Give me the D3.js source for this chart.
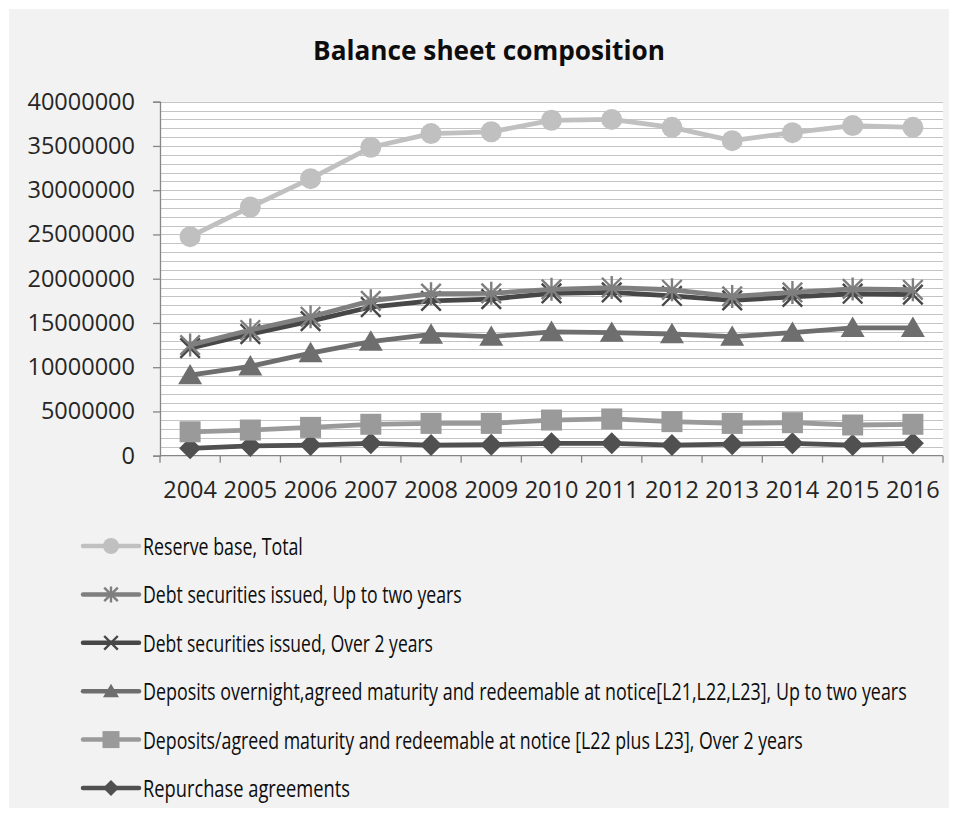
<!DOCTYPE html>
<html>
<head>
<meta charset="utf-8">
<script src="https://cdn.jsdelivr.net/npm/d3@7"></script>
<style>
  html, body { margin: 0; padding: 0; background: #ffffff; }
  svg { display: block; }
</style>
</head>
<body>
<svg id="chart" width="958" height="817"></svg>
<script>
// Years on the category axis
const years = ["2004","2005","2006","2007","2008","2009","2010","2011","2012","2013","2014","2015","2016"];

// Series values
const reserveBase   = [24750000, 28100000, 31300000, 34850000, 36400000, 36600000, 37900000, 38000000, 37100000, 35600000, 36500000, 37300000, 37100000];
const debtUpToTwo   = [12500000, 14200000, 15700000, 17500000, 18300000, 18350000, 18800000, 19000000, 18750000, 18000000, 18450000, 18850000, 18750000];
const debtOverTwo   = [12150000, 13750000, 15200000, 16800000, 17500000, 17700000, 18350000, 18450000, 18050000, 17550000, 17950000, 18300000, 18200000];
const depOvernight  = [9100000, 10100000, 11600000, 12900000, 13700000, 13450000, 14000000, 13900000, 13750000, 13450000, 13900000, 14450000, 14450000];
const depAgreedOver = [2700000, 2900000, 3200000, 3550000, 3650000, 3650000, 4030000, 4150000, 3850000, 3650000, 3730000, 3470000, 3550000];
const repurchase    = [830000, 1100000, 1200000, 1400000, 1200000, 1250000, 1400000, 1400000, 1200000, 1300000, 1400000, 1200000, 1400000];

// Y axis tick labels
const yTicks = [0, 5000000, 10000000, 15000000, 20000000, 25000000, 30000000, 35000000, 40000000];

const seriesNames = [
  "Reserve base, Total",
  "Debt securities issued, Up to two years",
  "Debt securities issued, Over 2 years",
  "Deposits overnight,agreed maturity and redeemable at notice[L21,L22,L23], Up to two years",
  "Deposits/agreed maturity and redeemable at notice [L22 plus L23], Over 2 years",
  "Repurchase agreements"
];

const series = [
  { name: seriesNames[0], values: reserveBase,   color: "#c0c0c0", marker: "circle",   legendWidth: 160 },
  { name: seriesNames[1], values: debtUpToTwo,   color: "#7f7f7f", marker: "star",     legendWidth: 319 },
  { name: seriesNames[2], values: debtOverTwo,   color: "#474747", marker: "x",        legendWidth: 290 },
  { name: seriesNames[3], values: depOvernight,  color: "#6e6e6e", marker: "triangle", legendWidth: 764 },
  { name: seriesNames[4], values: depAgreedOver, color: "#9a9a9a", marker: "square",   legendWidth: 660 },
  { name: seriesNames[5], values: repurchase,    color: "#505050", marker: "diamond",  legendWidth: 207 }
];

const svg = d3.select("#chart");

// Chart background
svg.append("rect").attr("x", 9).attr("y", 9).attr("width", 940).attr("height", 799).attr("fill", "#f2f2f2");

const plot = { left: 160, right: 943, top: 101.7, bottom: 455.7 };

const x = d3.scaleBand().domain(years).range([plot.left, plot.right]).padding(0);
const y = d3.scaleLinear().domain([0, 40000000]).range([plot.bottom, plot.top]);

// Plot area
svg.append("rect")
  .attr("x", plot.left).attr("y", plot.top)
  .attr("width", plot.right - plot.left).attr("height", plot.bottom - plot.top)
  .attr("fill", "#ffffff");

// Horizontal gridlines every 1,000,000
const gridVals = d3.range(1000000, 40000001, 1000000);
svg.append("g").selectAll("line").data(gridVals).join("line")
  .attr("x1", plot.left).attr("x2", plot.right)
  .attr("y1", d => Math.round(y(d)) + 0.5).attr("y2", d => Math.round(y(d)) + 0.5)
  .attr("stroke", "#c4c4c4").attr("stroke-width", 1.2);

// Y axis
const yAxis = svg.append("g")
  .attr("transform", `translate(${plot.left},0)`)
  .call(d3.axisLeft(y).tickValues(yTicks).tickSize(7).tickPadding(18).tickFormat(d3.format("d")));
yAxis.select(".domain").attr("stroke", "#868686").attr("stroke-width", 1.3);
yAxis.selectAll(".tick line").attr("stroke", "#868686").attr("stroke-width", 1.3);
yAxis.selectAll(".tick text")
  .attr("font-family", "'Open Sans', sans-serif").attr("font-size", 23.5)
  .attr("fill", "#262626");

// X axis: ticks at category boundaries, labels at category centres
const xAxisG = svg.append("g");
xAxisG.append("line")
  .attr("x1", plot.left).attr("x2", plot.right)
  .attr("y1", plot.bottom).attr("y2", plot.bottom)
  .attr("stroke", "#868686").attr("stroke-width", 1.3);
const boundaries = years.map(d => x(d)).concat([x(years[years.length - 1]) + x.bandwidth()]);
xAxisG.selectAll("line.tk").data(boundaries).join("line").attr("class", "tk")
  .attr("x1", d => d).attr("x2", d => d)
  .attr("y1", plot.bottom).attr("y2", plot.bottom + 7)
  .attr("stroke", "#868686").attr("stroke-width", 1.3);
xAxisG.selectAll("text").data(years).join("text")
  .attr("x", d => x(d) + x.bandwidth() / 2)
  .attr("y", 498)
  .attr("text-anchor", "middle")
  .attr("font-family", "'Open Sans', sans-serif").attr("font-size", 23.5)
  .attr("fill", "#262626")
  .text(d => d);

// Condensed text: shrink the font to the wanted width, then stretch it back vertically
function condensedText(parent, str, x0, baseline, width, size, weight, anchor) {
  const t = parent.append("text")
    .attr("font-family", "'Open Sans', sans-serif")
    .attr("font-weight", weight)
    .attr("font-size", size)
    .attr("fill", "#0d0d0d")
    .attr("text-anchor", anchor)
    .text(str);
  const natural = t.node().getComputedTextLength();
  const fs = size * Math.min(1, width / natural);
  t.attr("font-size", fs)
   .attr("transform", `translate(${x0},${baseline}) scale(1,${size / fs})`);
  return t;
}

// Title
condensedText(svg, "Balance sheet composition", 489, 60, 352, 27, "bold", "middle");

// Marker drawing
function drawMarker(g, type, cx, cy, s, color) {
  const h = s / 2;
  if (type === "circle") {
    g.append("circle").attr("cx", cx).attr("cy", cy).attr("r", h).attr("fill", color);
  } else if (type === "square") {
    g.append("rect").attr("x", cx - h).attr("y", cy - h).attr("width", s).attr("height", s).attr("fill", color);
  } else if (type === "triangle") {
    const th = s * 0.85;
    g.append("path")
      .attr("d", `M${cx},${cy - th * 0.55}L${cx + h},${cy + th * 0.45}L${cx - h},${cy + th * 0.45}Z`)
      .attr("fill", color);
  } else if (type === "diamond") {
    g.append("path")
      .attr("d", `M${cx},${cy - h}L${cx + h},${cy}L${cx},${cy + h}L${cx - h},${cy}Z`)
      .attr("fill", color);
  } else if (type === "x" || type === "star") {
    const d = h * 0.85;
    let p = `M${cx - d},${cy - d}L${cx + d},${cy + d}M${cx - d},${cy + d}L${cx + d},${cy - d}`;
    if (type === "star") p += `M${cx},${cy - h}L${cx},${cy + h}`;
    g.append("path").attr("d", p).attr("stroke", color).attr("stroke-width", 2.4).attr("fill", "none");
  }
}

const markerSize = { circle: 21, star: 23, x: 23, triangle: 24, square: 21, diamond: 22 };

const line = d3.line()
  .x((d, i) => x(years[i]) + x.bandwidth() / 2)
  .y(d => y(d));

// Draw later series first so earlier ones sit on top
const seriesG = svg.append("g");
series.slice().reverse().forEach(s => {
  const g = seriesG.append("g");
  g.append("path")
    .attr("d", line(s.values))
    .attr("fill", "none")
    .attr("stroke", s.color)
    .attr("stroke-width", 4.8)
    .attr("stroke-linejoin", "round");
  s.values.forEach((v, i) => {
    drawMarker(g, s.marker, x(years[i]) + x.bandwidth() / 2, y(v), markerSize[s.marker], s.color);
  });
});

// Legend
const legend = svg.append("g");
const legendY0 = 546, legendStep = 48.4;
series.forEach((s, i) => {
  const cy = legendY0 + i * legendStep;
  const g = legend.append("g");
  g.append("line")
    .attr("x1", 83).attr("x2", 139).attr("y1", cy).attr("y2", cy)
    .attr("stroke", s.color).attr("stroke-width", 4.5).attr("stroke-linecap", "round");
  drawMarker(g, s.marker, 111, cy, s.marker === "square" ? 17 : 16, s.color);
  condensedText(g, s.name, 143, cy + 9, s.legendWidth, 24, "normal", "start");
});
</script>
</body>
</html>
